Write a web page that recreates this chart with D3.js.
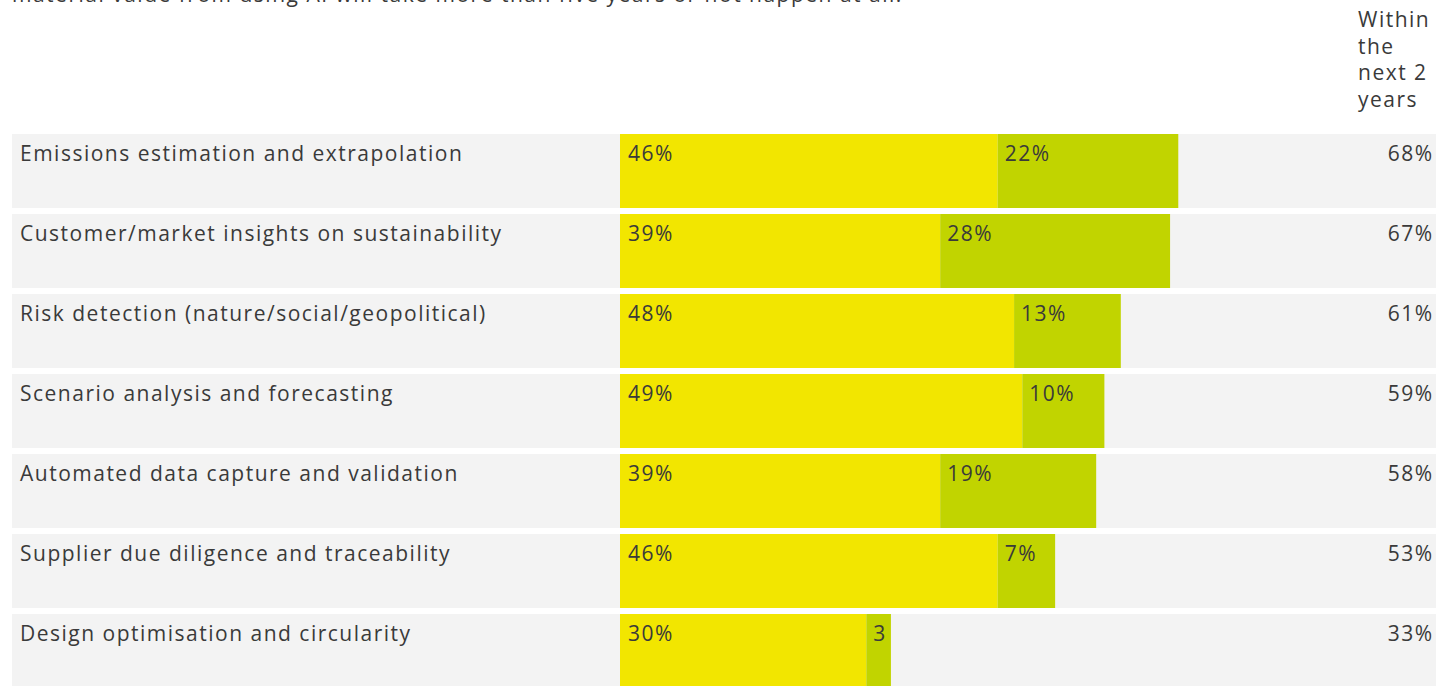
<!DOCTYPE html>
<html>
<head>
<meta charset="utf-8">
<script src="https://cdn.jsdelivr.net/npm/d3@7"></script>
<style>
  html, body { margin: 0; padding: 0; background: #ffffff; overflow: hidden; }
  svg { display: block; }
  text { font-family: "Open Sans", sans-serif; fill: #3a3a3a; font-size: 21px; letter-spacing: 1.5px; }
</style>
</head>
<body>
<svg id="chart" width="1436" height="686"></svg>
<script>
// AI use cases and share expecting material value
const categories = [
  "Emissions estimation and extrapolation",
  "Customer/market insights on sustainability",
  "Risk detection (nature/social/geopolitical)",
  "Scenario analysis and forecasting",
  "Automated data capture and validation",
  "Supplier due diligence and traceability",
  "Design optimisation and circularity"
];
const alreadyValues = [46, 39, 48, 49, 39, 46, 30];   // first segment
const withinTwoYears = [22, 28, 13, 10, 19, 7, 3];     // second segment
const totals = [68, 67, 61, 59, 58, 53, 33];
const headerLines = ["Within", "the", "next 2", "years"];
const introText = "material value from using AI will take more than five years or not happen at all.";

const svg = d3.select("#chart");
const W = 1436;

const colors = { first: "#f2e600", second: "#c1d400", row: "#f3f3f3" };

const x = d3.scaleLinear().domain([0, 100]).range([620, 1441]);
const y = d3.scaleBand().domain(categories).range([134, 688]).paddingInner(6 / 80).paddingOuter(0).align(0);

// intro sentence running off the top edge
svg.append("text").attr("x", 12).attr("y", 2).text(introText);

// column header
const hdr = svg.append("text").attr("x", 1358).attr("y", 27);
headerLines.forEach((l, i) => hdr.append("tspan").attr("x", 1358).attr("y", 27 + i * 26.5).text(l));

const rows = svg.selectAll("g.row").data(categories).join("g").attr("class", "row")
  .attr("transform", d => `translate(0,${y(d)})`);

rows.append("rect").attr("x", 12).attr("y", 0).attr("width", W - 12).attr("height", y.bandwidth())
  .attr("fill", colors.row);

rows.append("rect").attr("x", x(0)).attr("y", 0)
  .attr("width", (d, i) => x(alreadyValues[i]) - x(0)).attr("height", y.bandwidth())
  .attr("fill", colors.first);

rows.append("rect").attr("x", (d, i) => x(alreadyValues[i])).attr("y", 0)
  .attr("width", (d, i) => x(alreadyValues[i] + withinTwoYears[i]) - x(alreadyValues[i]))
  .attr("height", y.bandwidth())
  .attr("fill", colors.second);

const base = 27;
rows.append("text").attr("x", 20).attr("y", base).text(d => d);

rows.append("text").attr("x", x(0) + 8).attr("y", base)
  .text((d, i) => alreadyValues[i] + "%");

rows.append("text").attr("x", (d, i) => x(alreadyValues[i]) + 7).attr("y", base)
  .text((d, i) => withinTwoYears[i] < 5 ? String(withinTwoYears[i]) : withinTwoYears[i] + "%");

rows.append("text").attr("x", 1433.5).attr("y", base).attr("text-anchor", "end")
  .text((d, i) => totals[i] + "%");
</script>
</body>
</html>
